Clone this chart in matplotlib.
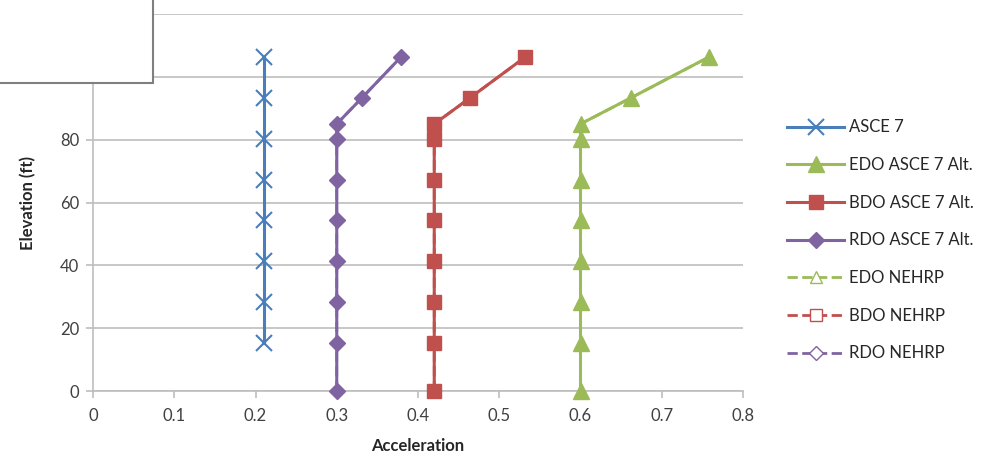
import matplotlib
matplotlib.use("Agg")
import matplotlib.pyplot as plt
from matplotlib.patches import Rectangle

plt.rcParams['font.family'] = ['Lato', 'DejaVu Sans']

# elevations (ft)
elev_asce = [15.3, 28.3, 41.3, 54.3, 67.3, 80.3, 93.3, 106.3]
elev_alt = [0, 15.3, 28.3, 41.3, 54.3, 67.3, 80.3, 85, 93.3, 106.3]

# accelerations
acc_asce = [0.21, 0.21, 0.21, 0.21, 0.21, 0.21, 0.21, 0.21]
acc_edo = [0.60, 0.60, 0.60, 0.60, 0.60, 0.60, 0.60, 0.60, 0.662, 0.758]
acc_bdo = [0.42, 0.42, 0.42, 0.42, 0.42, 0.42, 0.42, 0.42, 0.464, 0.532]
acc_rdo = [0.30, 0.30, 0.30, 0.30, 0.30, 0.30, 0.30, 0.30, 0.331, 0.379]

# NEHRP series sit underneath the Alt. series
acc_edo_nehrp = acc_edo
acc_bdo_nehrp = acc_bdo
acc_rdo_nehrp = acc_rdo

blue = '#4A7EBB'
green = '#9BBB59'
red = '#C0504D'
purple = '#8064A2'

fig = plt.figure(figsize=(9.97, 4.58), dpi=100)
ax = fig.add_axes([93/997, 1-391/458, 650/997, (391-14)/458])

ax.plot(acc_edo_nehrp, elev_alt, '--', color=green, lw=2, marker='^', ms=9,
        mfc='white', mec=green, label='EDO NEHRP', zorder=2, clip_on=False)
ax.plot(acc_bdo_nehrp, elev_alt, '--', color=red, lw=2, marker='s', ms=8,
        mfc='white', mec=red, label='BDO NEHRP', zorder=2, clip_on=False)
ax.plot(acc_rdo_nehrp, elev_alt, '--', color=purple, lw=2, marker='D', ms=7,
        mfc='white', mec=purple, label='RDO NEHRP', zorder=2, clip_on=False)

ax.plot(acc_asce, elev_asce, '-', color=blue, lw=2.2, marker='x', ms=12, mew=1.5,
        label='ASCE 7', zorder=3, clip_on=False)
ax.plot(acc_edo, elev_alt, '-', color=green, lw=2.2, marker='^', ms=11,
        label='EDO ASCE 7 Alt.', zorder=3, clip_on=False)
ax.plot(acc_bdo, elev_alt, '-', color=red, lw=2.2, marker='s', ms=10,
        label='BDO ASCE 7 Alt.', zorder=3, clip_on=False)
ax.plot(acc_rdo, elev_alt, '-', color=purple, lw=2.2, marker='D', ms=8,
        label='RDO ASCE 7 Alt.', zorder=3, clip_on=False)

ax.set_xlim(0, 0.8)
ax.set_ylim(0, 120)
ax.set_xticks([0, 0.1, 0.2, 0.3, 0.4, 0.5, 0.6, 0.7, 0.8])
ax.set_xticklabels(['0', '0.1', '0.2', '0.3', '0.4', '0.5', '0.6', '0.7', '0.8'])
ax.set_yticks([0, 20, 40, 60, 80, 100, 120])
ax.yaxis.grid(True, color='#BEBEBE', lw=1.2)
ax.set_axisbelow(True)
for s in ['top', 'right']:
    ax.spines[s].set_visible(False)
for s in ['left', 'bottom']:
    ax.spines[s].set_color('#BEBEBE')
    ax.spines[s].set_linewidth(1.2)
ax.tick_params(colors='#BEBEBE', labelcolor='#404040', labelsize=12, length=5, width=1.2)
ax.tick_params(axis='x', pad=7)
ax.tick_params(axis='y', pad=5)
ax.set_xlabel('Acceleration', fontsize=12, fontweight='bold', color='#262626', labelpad=10)
ax.set_ylabel('Elevation (ft)', fontsize=12, fontweight='bold', color='#262626', labelpad=10)

h, l = ax.get_legend_handles_labels()
order = [3, 4, 5, 6, 0, 1, 2]
ax.legend([h[i] for i in order], [l[i] for i in order], loc='upper left',
          bbox_to_anchor=(1.045, 0.76), frameon=False, fontsize=12,
          labelspacing=1.3, handlelength=3.4, handletextpad=0.3,
          labelcolor='#262626')

# white box cropped at top-left
fig.patches.append(Rectangle((-0.01, 1-83/458), 153/997+0.01, 83/458+0.01,
                             transform=fig.transFigure, facecolor='white',
                             edgecolor='#7F7F7F', lw=1.5, zorder=10))

fig.savefig('out.png', dpi=100)
